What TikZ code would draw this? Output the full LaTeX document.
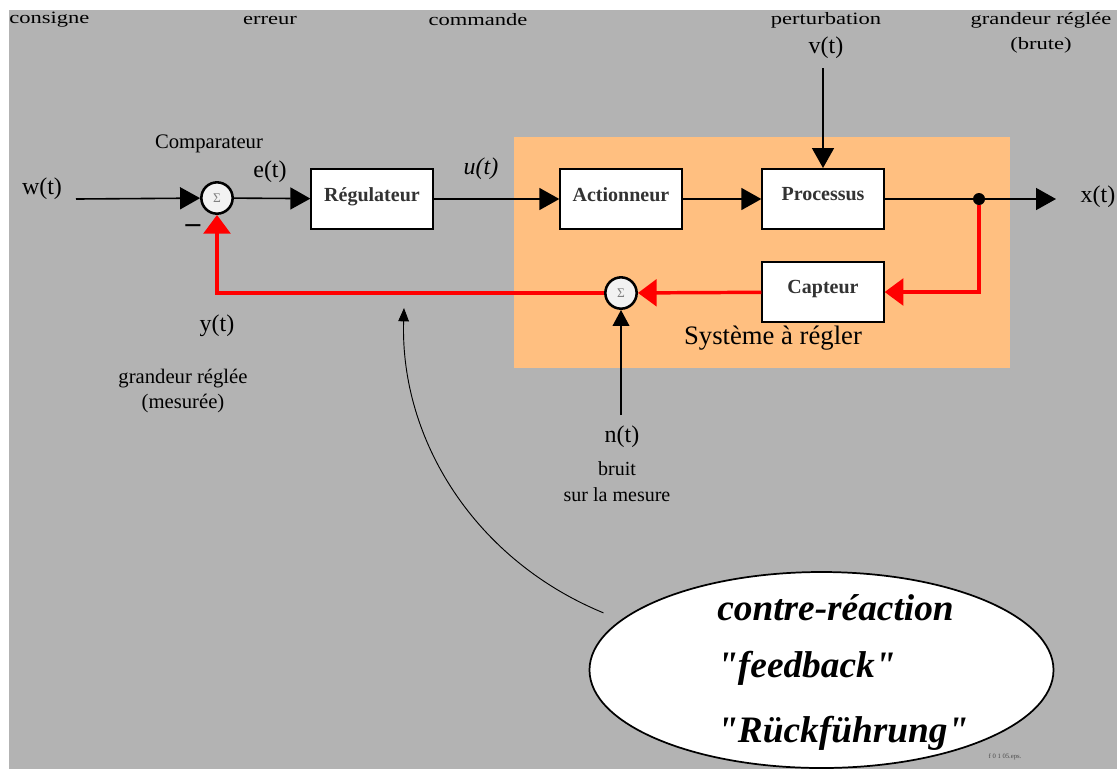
\documentclass[tikz,border=0pt]{standalone}
\usepackage{fontspec}
\setmainfont{Liberation Serif}
\newfontfamily\widefont[FakeStretch=1.3]{Liberation Serif}
\newfontfamily\bubblefont{Liberation Serif}
\usetikzlibrary{arrows.meta,shapes.geometric}
\definecolor{bggray}{RGB}{179,179,179}
\definecolor{sysorange}{RGB}{255,191,128}
\definecolor{fbred}{RGB}{255,0,0}
\tikzset{
  blockbox/.style={draw, line width=1.5pt, fill=white, minimum width=91pt, minimum height=45pt,
    inner sep=0pt, font=\bfseries\fontsize{15}{15}\selectfont, text=black!80},
  sumnode/.style={circle, draw, line width=1.9pt, fill=white!90!gray, minimum size=23.5pt, inner sep=0pt,
    font=\fontsize{10}{10}\selectfont, text=black!50},
  junction/.style={circle, fill=black, minimum size=9pt, inner sep=0pt},
  sig/.style={font=\fontsize{18}{18}\selectfont, inner sep=0pt},
  lab/.style={font=\fontsize{15.5}{19}\selectfont, align=center, inner sep=0pt},
  toplab/.style={font=\widefont\fontsize{13}{19}\selectfont, align=center, inner sep=0pt},
  sigline/.style={line width=1.2pt},
  blk/.style={sigline, -{Triangle[length=15pt,width=16.5pt]}},
  smalltip/.style={sigline, -{Triangle[length=12pt,width=12.5pt]}},
  redline/.style={line width=2.6pt, draw=fbred, -{Triangle[length=14pt,width=20pt]}},
  bubbletext/.style={font=\bubblefont\bfseries\itshape\fontsize{28}{28}\selectfont, anchor=base west, inner sep=0pt}
}
\begin{document}
\begin{tikzpicture}[x=0.75pt, y=-0.75pt]
\useasboundingbox (0,0) rectangle (1117,769);
% backgrounds
\fill[bggray] (9,10) rectangle (1117,769);
\fill[sysorange] (514,137) rectangle (1010,368);

% top labels
\node[toplab, anchor=west] (tcons) at (9,20) {consigne};
\node[toplab] (terr) at (270,20) {erreur};
\node[toplab] (tcom) at (478,20) {commande};
\node[toplab] (tpert) at (826,20) {perturbation};
\node[sig] (tv) at (826,48) {v(t)};
\node[toplab] (tgrb) at (1041,33) {grandeur réglée\\(brute)};

% blocks
\node[blockbox] (reg) at (372,199) {\raisebox{7pt}{Régulateur}};
\node[blockbox] (act) at (621,199) {\raisebox{7pt}{Actionneur}};
\node[blockbox] (proc) at (823,199) {\raisebox{7pt}{Processus}};
\node[blockbox] (capt) at (823,292) {\raisebox{7pt}{Capteur}};
\node[sumnode] (s1) at (217,198) {Σ};
\node[sumnode] (s2) at (621,293) {Σ};
\node[junction] (jd) at (979,199) {};

\coordinate (win) at (76,199);
\coordinate (xout) at (1056,199);
\coordinate (vin) at (823,68);
\coordinate (nin) at (621,415);
\coordinate (tip) at (404,308);

% signal labels
\node[sig] (lw) at (42,189) {w(t)};
\node[lab] (lcomp) at (209,144) {Comparateur};
\node[sig] (le) at (270,172) {e(t)};
\node[sig] (lu) at (481,169) {\itshape u(t)};
\node[sig] (lx) at (1098,197) {x(t)};
\node[font=\bfseries\fontsize{22}{22}\selectfont, inner sep=0pt] (lminus) at (193,229) {–};
\node[sig] (ly) at (217,326) {y(t)};
\node[lab] (lgrm) at (183,391) {grandeur réglée\\(mesurée)};
\node[sig] (ln) at (622,437) {n(t)};
\node[lab, font=\fontsize{15}{19.5}\selectfont] (lbruit) at (617,482) {bruit\\sur la mesure};
\node[font=\fontsize{20}{20}\selectfont, inner sep=0pt] (lsys) at (773,338) {Système à régler};
\node[font=\fontsize{5}{5}\selectfont, inner sep=0pt, text=black!70] (lfile) at (1005,757) {f 0 1 05.eps.};

% forward path
\draw[blk] (win) -- (s1);
\draw[blk] (s1) -- (reg);
\draw[blk] (reg) -- (act);
\draw[blk] (act) -- (proc);
\draw[blk] (vin) -- (proc);
\draw[sigline] (proc) -- (jd);
\draw[blk] (jd) -- (xout);
\draw[smalltip] (nin) -- (s2);

% feedback path
\draw[redline] (jd) |- (capt);
\draw[redline] (capt) -- (s2);
\draw[redline] (s2) -| (s1);

% bubble
\node[ellipse, draw, line width=1.3pt, fill=white, minimum width=348pt, minimum height=147pt, inner sep=0pt] (ell) at (821.5,670) {};
\node[bubbletext] (b1) at (717,620) {contre-réaction};
\node[bubbletext] (b2) at (717,677) {"feedback"};
\node[bubbletext] (b3) at (717,742) {"Rückführung"};
\draw[line width=0.7pt, -{Triangle[length=10pt,width=8pt]}, shorten <=14pt]
  (ell.166) .. controls (475,560) and (400,440) .. (tip);
\end{tikzpicture}
\end{document}
